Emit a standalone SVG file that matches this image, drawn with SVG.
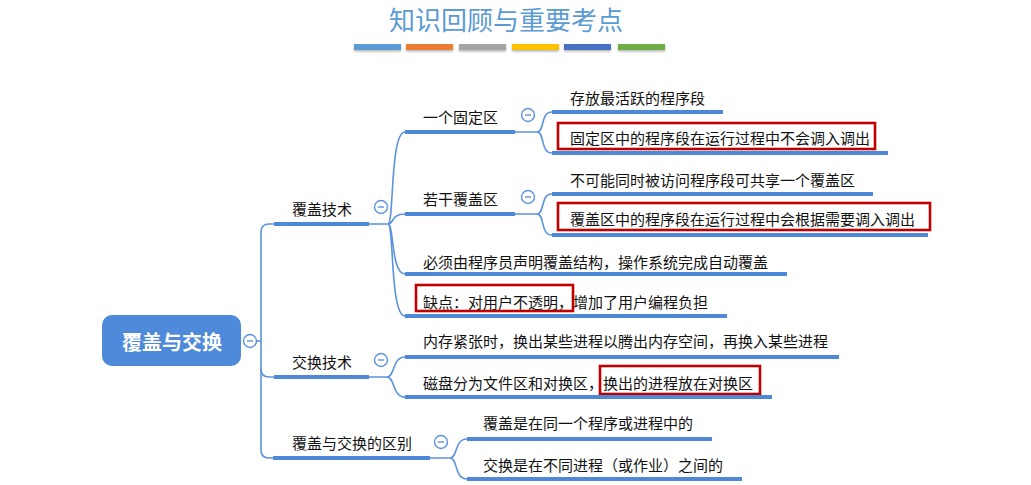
<svg xmlns="http://www.w3.org/2000/svg" width="1031" height="485" viewBox="0 0 1031 485">
<defs>
<style>
text{font-family:"Noto Sans CJK SC","Liberation Sans",sans-serif;dominant-baseline:central}
.t{font-size:15px;fill:#111}
.ul{stroke:#4d88d9;stroke-width:4;fill:none}
.cn{stroke:#5b93dc;stroke-width:1.6;fill:none}
.cc{fill:#fff;stroke:#5b93dc;stroke-width:1.4}
.cm{stroke:#5b93dc;stroke-width:1.4}
.hl{fill:none;stroke:#c00000;stroke-width:2.6}
</style>
<filter id="sh" x="-20%" y="-50%" width="140%" height="250%"><feDropShadow dx="0" dy="1.5" stdDeviation="1.2" flood-color="#000" flood-opacity="0.3"/></filter>
</defs>
<rect width="1031" height="485" fill="#fff"/>
<g id="title">
<text x="506" y="18" text-anchor="middle" style="font-size:26px;fill:#5b9bd5">知识回顾与重要考点</text>
<g filter="url(#sh)">
<rect x="354" y="44" width="47" height="6" fill="#5b9bd5"/>
<rect x="406" y="44" width="47" height="6" fill="#ed7d31"/>
<rect x="459" y="44" width="47" height="6" fill="#a5a5a5"/>
<rect x="512" y="44" width="47" height="6" fill="#ffc000"/>
<rect x="564" y="44" width="47" height="6" fill="#4472c4"/>
<rect x="618" y="44" width="47" height="6" fill="#70ad47"/>
</g>
</g>
<g id="connectors">
<path class="cn" d="M256 341 H261"/>
<path class="cn" d="M274 224 H269 Q261 224 261 232 V450 Q261 458 269 458 H274"/>
<path class="cn" d="M261 369 Q261 377 269 377 H274"/>
<path class="cn" d="M369 224 H388 C394 224 390 132 405 132"/>
<path class="cn" d="M388 224 C394 224 391 214 405 214"/>
<path class="cn" d="M388 224 C394 224 391 274 405 274"/>
<path class="cn" d="M388 224 C394 224 390 316 405 316"/>
<path class="cn" d="M515 132 H537 C545 132 540 112 552 112"/>
<path class="cn" d="M537 132 C545 132 540 153 552 153"/>
<path class="cn" d="M515 214 H537 C545 214 540 194 552 194"/>
<path class="cn" d="M537 214 C545 214 540 235 552 235"/>
<path class="cn" d="M369 377 H387 C395 377 392 357 405 357"/>
<path class="cn" d="M387 377 C395 377 392 397 405 397"/>
<path class="cn" d="M430 458 H450 C458 458 454 439 467 439"/>
<path class="cn" d="M450 458 C458 458 454 479 467 479"/>
</g>
<g id="root">
<rect x="102" y="315" width="139" height="51" rx="10" fill="#4e8ad9"/>
<text x="172" y="341" text-anchor="middle" style="font-size:20px;font-weight:bold;fill:#fff">覆盖与交换</text>
<circle class="cc" cx="250" cy="341" r="6.5"/><line class="cm" x1="247" y1="341" x2="253" y2="341"/>
</g>
<g id="n-fugai">
<text class="t" x="292" y="208">覆盖技术</text>
<path class="ul" d="M274 224 H369"/>
<circle class="cc" cx="381" cy="207" r="6.5"/><line class="cm" x1="378" y1="207" x2="384" y2="207"/>
</g>
<g id="n-gudingqu">
<text class="t" x="423" y="116">一个固定区</text>
<path class="ul" d="M405 132 H515"/>
<circle class="cc" cx="528" cy="115" r="6.5"/><line class="cm" x1="525" y1="115" x2="531" y2="115"/>
</g>
<g id="n-cunfang">
<text class="t" x="570" y="97">存放最活跃的程序段</text>
<path class="ul" d="M552 112 H723"/>
</g>
<g id="n-gudingzhong">
<rect class="hl" x="558" y="123" width="317" height="26"/>
<text class="t" x="570" y="137">固定区中的程序段在运行过程中不会调入调出</text>
<path class="ul" d="M552 153 H888"/>
</g>
<g id="n-ruogan">
<text class="t" x="423" y="198">若干覆盖区</text>
<path class="ul" d="M405 214 H515"/>
<circle class="cc" cx="528" cy="197" r="6.5"/><line class="cm" x1="525" y1="197" x2="531" y2="197"/>
</g>
<g id="n-bukeneng">
<text class="t" x="570" y="179">不可能同时被访问程序段可共享一个覆盖区</text>
<path class="ul" d="M552 194 H873"/>
</g>
<g id="n-fugaiqu">
<rect class="hl" x="558" y="203" width="372" height="27"/>
<text class="t" x="570" y="218">覆盖区中的程序段在运行过程中会根据需要调入调出</text>
<path class="ul" d="M552 235 H928"/>
</g>
<g id="n-bixu">
<text class="t" x="423" y="261">必须由程序员声明覆盖结构，操作系统完成自动覆盖</text>
<path class="ul" d="M405 274 H787"/>
</g>
<g id="n-quedian">
<rect class="hl" x="416" y="285" width="157" height="26"/>
<text class="t" x="423" y="301">缺点：对用户不透明，增加了用户编程负担</text>
<path class="ul" d="M405 316 H727"/>
</g>
<g id="n-jiaohuan">
<text class="t" x="292" y="361">交换技术</text>
<path class="ul" d="M274 377 H369"/>
<circle class="cc" cx="381" cy="360" r="6.5"/><line class="cm" x1="378" y1="360" x2="384" y2="360"/>
</g>
<g id="n-neicun">
<text class="t" x="423" y="340">内存紧张时，换出某些进程以腾出内存空间，再换入某些进程</text>
<path class="ul" d="M405 357 H839"/>
</g>
<g id="n-cipan">
<rect class="hl" x="600" y="366" width="160" height="28"/>
<text class="t" x="423" y="382">磁盘分为文件区和对换区，换出的进程放在对换区</text>
<path class="ul" d="M405 397 H772"/>
</g>
<g id="n-qubie">
<text class="t" x="292" y="442">覆盖与交换的区别</text>
<path class="ul" d="M273 458 H430"/>
<circle class="cc" cx="441" cy="442" r="6.5"/><line class="cm" x1="438" y1="442" x2="444" y2="442"/>
</g>
<g id="n-fugaishi">
<text class="t" x="483" y="422">覆盖是在同一个程序或进程中的</text>
<path class="ul" d="M467 439 H712"/>
</g>
<g id="n-jiaohuanshi">
<text class="t" x="483" y="464">交换是在不同进程（或作业）之间的</text>
<path class="ul" d="M467 479 H742"/>
</g>
</svg>
